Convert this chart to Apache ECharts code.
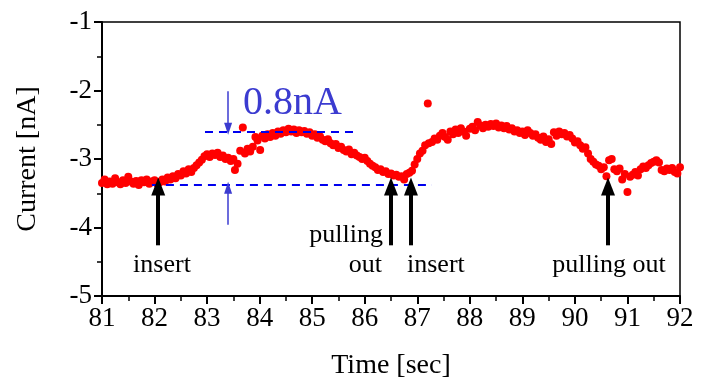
<!DOCTYPE html>
<html>
<head>
<meta charset="utf-8">
<script src="https://cdn.jsdelivr.net/npm/echarts@6/dist/echarts.min.js"></script>
<style>
  html, body { margin: 0; padding: 0; background: #fff; }
  #main { width: 702px; height: 385px; }
</style>
</head>
<body>
<div id="main"></div>
<script>
// current trace, [time sec, current nA]
var currentPoints = [
  [81.00, -3.35], [81.05, -3.30], [81.10, -3.37], [81.15, -3.33], [81.20, -3.36],
  [81.25, -3.28], [81.30, -3.34], [81.35, -3.37], [81.40, -3.31], [81.45, -3.35],
  [81.50, -3.26], [81.55, -3.33], [81.60, -3.36], [81.65, -3.32], [81.70, -3.38],
  [81.75, -3.31], [81.80, -3.34], [81.85, -3.30], [81.90, -3.36], [81.95, -3.33],
  [82.00, -3.31], [82.05, -3.36], [82.10, -3.34], [82.15, -3.30], [82.20, -3.33],
  [82.25, -3.27], [82.30, -3.30], [82.35, -3.25], [82.40, -3.28], [82.45, -3.22],
  [82.50, -3.24], [82.55, -3.18], [82.60, -3.21], [82.65, -3.15], [82.70, -3.19],
  [82.75, -3.13], [82.80, -3.09], [82.85, -3.05], [82.90, -3.01], [82.95, -2.96],
  [83.00, -2.93], [83.05, -2.97], [83.10, -2.92], [83.15, -2.94], [83.20, -2.91],
  [83.25, -2.97], [83.30, -2.95], [83.35, -3.00], [83.40, -2.98], [83.45, -3.03],
  [83.50, -3.00], [83.53, -3.16], [83.58, -3.07], [83.63, -2.88], [83.68, -2.54],
  [83.72, -2.92], [83.77, -2.85], [83.82, -2.89], [83.87, -2.82], [83.92, -2.68],
  [83.96, -2.73], [84.01, -2.87], [84.05, -2.66], [84.10, -2.70], [84.15, -2.64],
  [84.20, -2.68], [84.25, -2.62], [84.30, -2.66], [84.35, -2.60], [84.40, -2.63],
  [84.45, -2.58], [84.50, -2.61], [84.55, -2.56], [84.60, -2.60], [84.65, -2.57],
  [84.70, -2.62], [84.75, -2.58], [84.80, -2.61], [84.85, -2.59], [84.90, -2.63],
  [84.95, -2.61], [85.00, -2.66], [85.05, -2.64], [85.10, -2.69], [85.15, -2.67],
  [85.20, -2.72], [85.25, -2.74], [85.30, -2.71], [85.35, -2.77], [85.40, -2.80],
  [85.45, -2.78], [85.50, -2.84], [85.55, -2.82], [85.60, -2.87], [85.65, -2.89],
  [85.70, -2.86], [85.75, -2.93], [85.80, -2.91], [85.85, -2.95], [85.90, -2.97],
  [85.95, -3.00], [86.00, -2.98], [86.05, -3.03], [86.10, -3.07], [86.15, -3.10],
  [86.20, -3.12], [86.25, -3.16], [86.30, -3.15], [86.35, -3.19], [86.40, -3.18],
  [86.45, -3.22], [86.50, -3.21], [86.55, -3.24], [86.60, -3.23], [86.65, -3.26],
  [86.70, -3.25], [86.75, -3.30], [86.80, -3.22], [86.85, -3.20], [86.90, -3.17],
  [86.95, -3.08], [87.00, -3.00], [87.05, -2.92], [87.10, -2.88], [87.15, -2.80],
  [87.20, -2.19], [87.22, -2.77], [87.28, -2.75], [87.33, -2.70], [87.38, -2.72],
  [87.43, -2.66], [87.48, -2.62], [87.53, -2.68], [87.58, -2.72], [87.63, -2.60],
  [87.68, -2.64], [87.73, -2.57], [87.78, -2.62], [87.83, -2.55], [87.88, -2.60],
  [87.93, -2.66], [88.00, -2.56], [88.05, -2.53], [88.10, -2.58], [88.15, -2.46],
  [88.20, -2.51], [88.25, -2.55], [88.30, -2.50], [88.35, -2.53], [88.40, -2.49],
  [88.45, -2.52], [88.50, -2.48], [88.55, -2.54], [88.60, -2.51], [88.65, -2.55],
  [88.70, -2.52], [88.75, -2.57], [88.80, -2.55], [88.85, -2.60], [88.90, -2.58],
  [88.95, -2.62], [89.00, -2.60], [89.05, -2.65], [89.10, -2.58], [89.15, -2.62],
  [89.20, -2.66], [89.25, -2.64], [89.30, -2.69], [89.35, -2.72], [89.40, -2.67],
  [89.45, -2.75], [89.50, -2.71], [89.55, -2.78], [89.60, -2.61], [89.65, -2.66],
  [89.70, -2.60], [89.75, -2.64], [89.80, -2.62], [89.85, -2.67], [89.90, -2.65],
  [89.95, -2.70], [90.00, -2.76], [90.05, -2.74], [90.10, -2.80], [90.15, -2.85],
  [90.20, -2.83], [90.25, -2.92], [90.30, -3.00], [90.35, -3.04], [90.40, -3.08],
  [90.45, -3.10], [90.50, -3.15], [90.55, -3.12], [90.60, -3.25], [90.65, -3.02],
  [90.70, -3.00], [90.75, -3.15], [90.80, -3.18], [90.85, -3.14], [90.90, -3.30],
  [90.95, -3.22], [91.00, -3.48], [91.05, -3.26], [91.10, -3.23], [91.15, -3.19],
  [91.20, -3.24], [91.25, -3.15], [91.30, -3.11], [91.35, -3.13], [91.40, -3.09],
  [91.45, -3.06], [91.50, -3.04], [91.55, -3.02], [91.60, -3.05], [91.65, -3.16],
  [91.70, -3.18], [91.75, -3.14], [91.80, -3.16], [91.85, -3.13], [91.90, -3.19],
  [91.95, -3.21], [92.00, -3.12]
];

// dashed reference levels and event arrows
var upperLevel = { y: -2.6, from: 82.96, to: 85.85 };
var lowerLevel = { y: -3.38, from: 81.95, to: 87.28 };
var eventTimes = [82.07, 86.5, 86.88, 90.63];
var arrowBottom = -4.26;
var arrowTip = -3.4;
var gapArrowTime = 83.4;

var serif = '"Liberation Serif", "DejaVu Serif", serif';
var blue = '#3b3bd0';

var lines = [];
lines.push([
  { coord: [upperLevel.from, upperLevel.y], symbol: 'none', lineStyle: { color: '#0000ee', width: 2, type: [8, 6] } },
  { coord: [upperLevel.to, upperLevel.y], symbol: 'none' }
]);
lines.push([
  { coord: [lowerLevel.from, lowerLevel.y], symbol: 'none', lineStyle: { color: '#0000ee', width: 2, type: [8, 6] } },
  { coord: [lowerLevel.to, lowerLevel.y], symbol: 'none' }
]);
eventTimes.forEach(function (t) {
  lines.push([
    { coord: [t, arrowBottom], symbol: 'none', lineStyle: { color: '#000', width: 4, type: 'solid' } },
    { coord: [t, arrowTip], symbol: 'triangle', symbolSize: [14, 18] }
  ]);
});
// blue arrows marking the 0.8nA step
lines.push([
  { coord: [gapArrowTime, -2.01], symbol: 'none', lineStyle: { color: blue, width: 1.5, type: 'solid' } },
  { coord: [gapArrowTime, -2.56], symbol: 'triangle', symbolSize: [8, 12] }
]);
lines.push([
  { coord: [gapArrowTime, -3.96], symbol: 'none', lineStyle: { color: blue, width: 1.5, type: 'solid' } },
  { coord: [gapArrowTime, -3.42], symbol: 'triangle', symbolSize: [8, 12] }
]);

var myChart = echarts.init(document.getElementById('main'));
var option = {
  animation: false,
  backgroundColor: '#fff',
  grid: {
    left: 102, right: 22, top: 22, bottom: 83,
    show: true, borderColor: '#000', borderWidth: 1.5
  },
  xAxis: {
    type: 'value',
    min: 81, max: 92, interval: 1,
    name: 'Time [sec]',
    nameLocation: 'middle',
    nameGap: 56,
    nameTextStyle: { fontFamily: serif, fontSize: 28, color: '#000' },
    axisLine: { show: true, onZero: false, lineStyle: { color: '#000', width: 2 } },
    axisTick: { show: true, length: 8, lineStyle: { color: '#000', width: 2 } },
    minorTick: { show: true, splitNumber: 2, length: 5, lineStyle: { color: '#000', width: 1.5 } },
    axisLabel: { fontFamily: serif, fontSize: 27, color: '#000', margin: 9 },
    splitLine: { show: false }
  },
  yAxis: {
    type: 'value',
    min: -5, max: -1, interval: 1,
    name: 'Current [nA]',
    nameLocation: 'middle',
    nameGap: 60,
    nameTextStyle: { fontFamily: serif, fontSize: 28, color: '#000' },
    axisLine: { show: true, onZero: false, lineStyle: { color: '#000', width: 2 } },
    axisTick: { show: true, length: 8, lineStyle: { color: '#000', width: 2 } },
    minorTick: { show: true, splitNumber: 2, length: 5, lineStyle: { color: '#000', width: 1.5 } },
    axisLabel: { fontFamily: serif, fontSize: 27, color: '#000', margin: 10 },
    splitLine: { show: false }
  },
  series: [
    {
      type: 'scatter',
      symbol: 'circle',
      symbolSize: 8,
      itemStyle: { color: '#ff0000', opacity: 1 },
      data: currentPoints,
      markLine: {
        silent: true,
        animation: false,
        label: { show: false },
        emphasis: { disabled: true },
        data: lines
      }
    }
  ],
  graphic: [
    { type: 'text', x: 243, y: 103, style: { text: '0.8nA', font: '40px ' + serif, fill: blue, textAlign: 'left', textVerticalAlign: 'middle' } },
    { type: 'text', x: 162, y: 265, style: { text: 'insert', font: '26px ' + serif, fill: '#000', textAlign: 'center', textVerticalAlign: 'middle' } },
    { type: 'text', x: 383, y: 235, style: { text: 'pulling', font: '26px ' + serif, fill: '#000', textAlign: 'right', textVerticalAlign: 'middle' } },
    { type: 'text', x: 382, y: 265, style: { text: 'out', font: '26px ' + serif, fill: '#000', textAlign: 'right', textVerticalAlign: 'middle' } },
    { type: 'text', x: 407, y: 265, style: { text: 'insert', font: '26px ' + serif, fill: '#000', textAlign: 'left', textVerticalAlign: 'middle' } },
    { type: 'text', x: 609, y: 265, style: { text: 'pulling out', font: '26px ' + serif, fill: '#000', textAlign: 'center', textVerticalAlign: 'middle' } }
  ]
};
option && myChart.setOption(option);
</script>
</body>
</html>
